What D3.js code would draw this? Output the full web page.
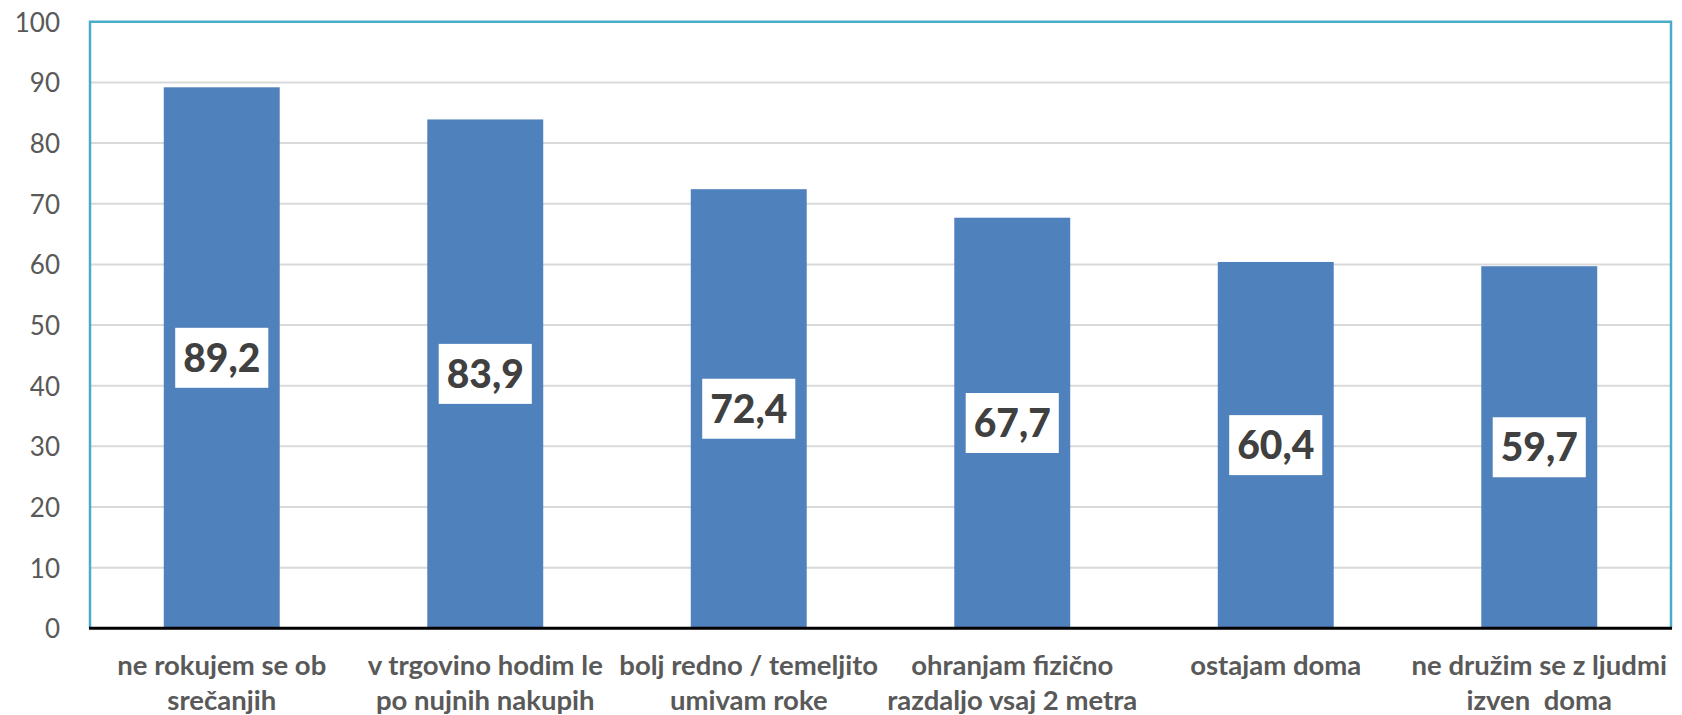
<!DOCTYPE html>
<html>
<head>
<meta charset="utf-8">
<script src="https://cdn.jsdelivr.net/npm/d3@7"></script>
<style>
  html, body { margin: 0; padding: 0; background: #fff; }
  svg { display: block; }
</style>
</head>
<body>
<svg id="chart" width="1682" height="715"></svg>
<script>
const categories = [
  ["ne rokujem se ob", "srečanjih"],
  ["v trgovino hodim le", "po nujnih nakupih"],
  ["bolj redno / temeljito", "umivam roke"],
  ["ohranjam fizično", "razdaljo vsaj 2 metra"],
  ["ostajam doma"],
  ["ne družim se z ljudmi", "izven  doma"]
];
const values = [89.2, 83.9, 72.4, 67.7, 60.4, 59.7];
const valueLabels = ["89,2", "83,9", "72,4", "67,7", "60,4", "59,7"];
const yTicks = [0, 10, 20, 30, 40, 50, 60, 70, 80, 90, 100];

(function () {
const svg = d3.select("#chart");
const pLeft = 90, pRight = 1671, pTop = 21.8, pBottom = 628.3;

const x = d3.scaleBand()
  .domain(d3.range(categories.length))
  .range([pLeft, pRight])
  .paddingInner(0.56)
  .paddingOuter(0.28);

const y = d3.scaleLinear().domain([0, 100]).range([pBottom, pTop]);

// gridlines
svg.append("g")
  .selectAll("line")
  .data(yTicks.filter(d => d > 0 && d < 100))
  .join("line")
  .attr("x1", pLeft).attr("x2", pRight)
  .attr("y1", d => y(d)).attr("y2", d => y(d))
  .attr("stroke", "#d9d9d9")
  .attr("stroke-width", 2);

// y axis labels
const yAxis = d3.axisLeft(y).tickValues(yTicks).tickSize(0).tickPadding(0).tickFormat(d3.format("d"));
const yg = svg.append("g").attr("transform", `translate(60,0)`).call(yAxis);
yg.select(".domain").remove();
yg.selectAll("text")
  .attr("fill", "#595959")
  .style("font-family", "Lato, 'Open Sans', sans-serif")
  .style("font-size", "26px")
  .attr("dy", "0.36em");

// bars
svg.append("g")
  .selectAll("rect")
  .data(values)
  .join("rect")
  .attr("x", (d, i) => x(i))
  .attr("width", x.bandwidth())
  .attr("y", d => y(d))
  .attr("height", d => y(0) - y(d))
  .attr("fill", "#4f81bd");

// plot border (teal)
svg.append("path")
  .attr("d", `M${pLeft},${pBottom} L${pLeft},${pTop} L${pRight},${pTop} L${pRight},${pBottom}`)
  .attr("fill", "none")
  .attr("stroke", "#4bacc6")
  .attr("stroke-width", 2.5);

// baseline
svg.append("line")
  .attr("x1", pLeft - 1).attr("x2", pRight + 1)
  .attr("y1", y(0)).attr("y2", y(0))
  .attr("stroke", "#000")
  .attr("stroke-width", 3);

// data labels
const lbl = svg.append("g").selectAll("g")
  .data(values)
  .join("g")
  .attr("transform", (d, i) => `translate(${x(i) + x.bandwidth() / 2},${y(d / 2)})`);
lbl.append("rect").attr("fill", "#fff");
const texts = lbl.append("text")
  .text((d, i) => valueLabels[i])
  .attr("text-anchor", "middle")
  .attr("dy", "0.36em")
  .attr("fill", "#404040")
  .style("font-family", "Lato, 'Open Sans', sans-serif")
  .style("font-weight", "900")
  .style("font-size", "39px");
texts.each(function () {
  const w = this.getComputedTextLength();
  d3.select(this.parentNode).select("rect")
    .attr("x", -w / 2 - 8).attr("width", w + 16)
    .attr("y", -30).attr("height", 60);
});

// category labels
const cg = svg.append("g").selectAll("text")
  .data(categories)
  .join("text")
  .attr("text-anchor", "middle")
  .attr("fill", "#595959")
  .style("white-space", "pre")
  .style("font-family", "Lato, 'Open Sans', sans-serif")
  .style("font-weight", "bold")
  .style("font-size", "27.5px");
cg.each(function (lines, i) {
  const t = d3.select(this);
  lines.forEach((ln, j) => {
    t.append("tspan")
      .attr("x", x(i) + x.bandwidth() / 2)
      .attr("y", 675 + j * 35)
      .text(ln);
  });
});
})();
</script>
</body>
</html>
